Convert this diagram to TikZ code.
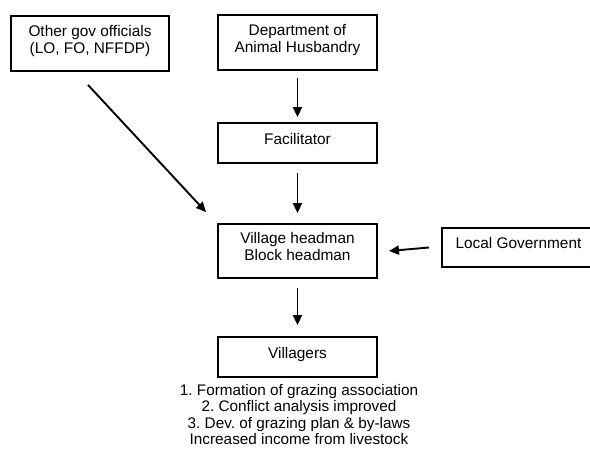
\documentclass[tikz,border=0pt]{standalone}
\usepackage{fontspec}
\setmainfont{Liberation Sans}
\usetikzlibrary{arrows.meta}
\begin{document}
\frenchspacing
\begin{tikzpicture}[x=1pt,y=-1pt,
  box/.style={draw, line width=1.9pt, minimum width=159pt, inner sep=0pt,
    align=center, font=\fontsize{15.4}{17}\selectfont, text depth=9pt},
  arr/.style={line width=1.9pt, -{Triangle[width=9pt,length=10pt]}},
  notes/.style={align=center, font=\fontsize{15.3}{16.4}\selectfont, inner sep=0pt}]
  \useasboundingbox (0,0) rectangle (590,450);

  \node[box, minimum width=158pt, minimum height=55pt] (oth) at (90,43.5)
    {Other gov officials\\(LO, FO, NFFDP)};
  \node[box, minimum height=55pt] (dept) at (297.5,42.5)
    {Department of\\Animal Husbandry};
  \node[box, minimum height=40pt] (fac) at (297.5,143) {Facilitator};
  \node[box, minimum height=54pt] (vil) at (297.5,251)
    {Village headman\\Block headman};
  \node[box, minimum width=153pt, minimum height=39pt] (loc) at (518.5,247.5)
    {Local Government};
  \node[box, minimum height=40pt] (vgr) at (297.5,357) {Villagers};

  \node[notes, anchor=north] (out) at (299,384)
    {1. Formation of grazing association\\
     2. Conflict analysis improved\\
     3. Dev. of grazing plan \& by-laws\\
     Increased income from livestock};

  \draw[arr] ([yshift=-7pt]dept.south) -- ([yshift=5pt]fac.north);
  \draw[arr] ([yshift=-9pt]fac.south) -- ([yshift=10pt]vil.north);
  \draw[arr] ([yshift=-9pt]vil.south) -- ([yshift=11pt]vgr.north);
  \draw[arr] ([xshift=-12pt]loc.west) -- ([xshift=11pt]vil.east);
  \draw[arr] ([xshift=-2pt,yshift=-13pt]oth.south) -- ([xshift=-11pt,yshift=11pt]vil.north west);
\end{tikzpicture}
\end{document}
